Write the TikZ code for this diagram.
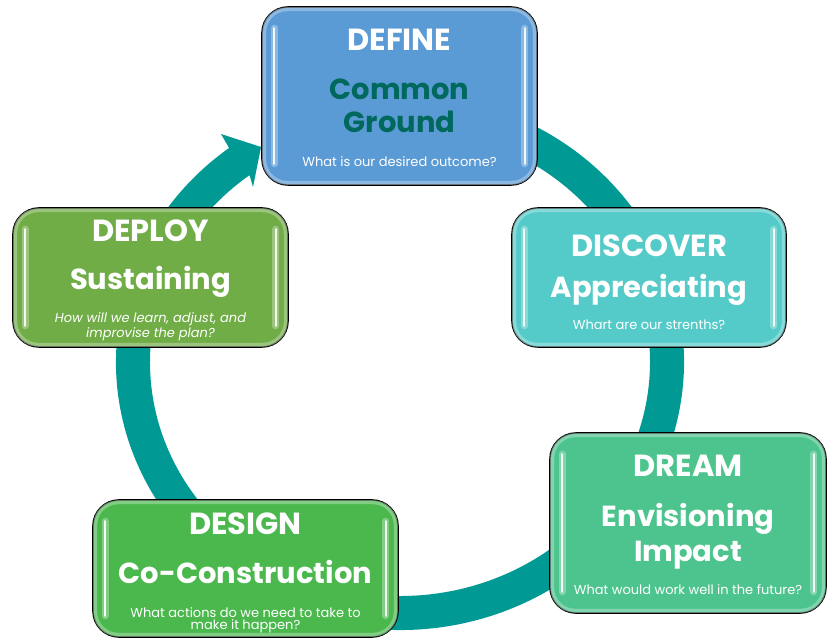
\documentclass[tikz,border=0pt]{standalone}
\usepackage{fontspec}
\setmainfont{Poppins}
\usetikzlibrary{calc}

\definecolor{ringteal}{RGB}{0,153,148}
\definecolor{defineblue}{RGB}{91,155,213}
\definecolor{discoverteal}{RGB}{85,203,201}
\definecolor{dreamgreen}{RGB}{77,196,141}
\definecolor{designgreen}{RGB}{75,184,78}
\definecolor{deploygreen}{RGB}{112,173,71}
\definecolor{groundtext}{RGB}{0,104,92}

\tikzset{
  stage/.style={draw=black, line width=1.6pt, rounded corners=26pt,
    rectangle, inner sep=0pt},
  rim/.style={draw=#1!45!white, line width=4pt, rounded corners=23pt, opacity=.55},
  halo/.style={draw=white, line width=7pt, line cap=round, opacity=.3},
  shine/.style={draw=white, line width=2.2pt, line cap=round, opacity=.9},
  ttl/.style={anchor=base, text=white, font=\bfseries\fontsize{30.5}{33}\selectfont},
  sub/.style={anchor=base, text=white, font=\bfseries\fontsize{29}{32}\selectfont},
  qst/.style={anchor=base, text=white, font=\fontsize{13}{15}\selectfont},
  qsti/.style={qst, font=\itshape\fontsize{13}{15}\selectfont},
}

% glossy rounded panel: name, centre x, centre y, width, height, colour
\newcommand{\drawstage}[6]{%
  \node[stage, fill=#6, minimum width=#4, minimum height=#5] (#1) at (#2,#3) {};
  \draw[rim=#6] ($(#1.south west)+(3,3)$) rectangle ($(#1.north east)+(-3,-3)$);
  \draw[halo] ($(#1.north west)+(13,-22)$) -- ($(#1.south west)+(13,22)$);
  \draw[halo] ($(#1.north east)+(-13,-22)$) -- ($(#1.south east)+(-13,22)$);
  \draw[shine] ($(#1.north west)+(13,-22)$) -- ($(#1.south west)+(13,22)$);
  \draw[shine] ($(#1.north east)+(-13,-22)$) -- ($(#1.south east)+(-13,22)$);
}

\begin{document}
\begin{tikzpicture}[x=1pt,y=1pt]
\useasboundingbox (0,0) rectangle (834,639);

% circular arrow running clockwise through the five stages
\coordinate (ctr) at (400,277);
\coordinate (wingout) at (221,505);
\coordinate (tip) at (261,492);
\coordinate (wingin) at (253,452);
\fill[ringteal]
  ($(ctr)+(80:284 and 268)$)
  arc[start angle=80, end angle=-233, x radius=284, y radius=268]
  -- (wingout) -- (tip) -- (wingin)
  -- ($(ctr)+(-233:250 and 234)$)
  arc[start angle=-233, end angle=80, x radius=250, y radius=234]
  -- cycle;

% stage panels
\drawstage{define}{399.5}{543}{275}{178}{defineblue}
\drawstage{discover}{649}{361.5}{274}{139}{discoverteal}
\drawstage{deploy}{150.5}{361.5}{275}{139}{deploygreen}
\drawstage{dream}{688}{116}{276}{180}{dreamgreen}
\drawstage{design}{245.5}{70.5}{305}{137}{designgreen}

% DEFINE
\node[ttl] (defT) at (399.5,588) {DEFINE};
\node[sub, text=groundtext] (defS1) at (399.5,539) {Common};
\node[sub, text=groundtext] (defS2) at (399.5,506) {Ground};
\node[qst] (defQ) at (399.5,472) {What is our desired outcome?};

% DISCOVER
\node[ttl] (disT) at (649,382) {DISCOVER};
\node[sub] (disS) at (649,341) {Appreciating};
\node[qst] (disQ) at (649,309) {Whart are our strenths?};

% DEPLOY
\node[ttl] (depT) at (150.5,397) {DEPLOY};
\node[sub] (depS) at (150.5,349) {Sustaining};
\node[qsti] (depQ1) at (150.5,316) {How will we learn, adjust, and};
\node[qsti] (depQ2) at (150.5,301) {improvise the plan?};

% DREAM
\node[ttl] (drmT) at (688,162) {DREAM};
\node[sub] (drmS1) at (688,112) {Envisioning};
\node[sub] (drmS2) at (688,77) {Impact};
\node[qst] (drmQ) at (688,44) {What would work well in the future?};

% DESIGN
\node[ttl] (desT) at (245.5,104) {DESIGN};
\node[sub] (desS) at (245.5,56) {Co-Construction};
\node[qst] (desQ1) at (245.5,22) {What actions do we need to take to};
\node[qst] (desQ2) at (245.5,10) {make it happen?};
\end{tikzpicture}
\end{document}
